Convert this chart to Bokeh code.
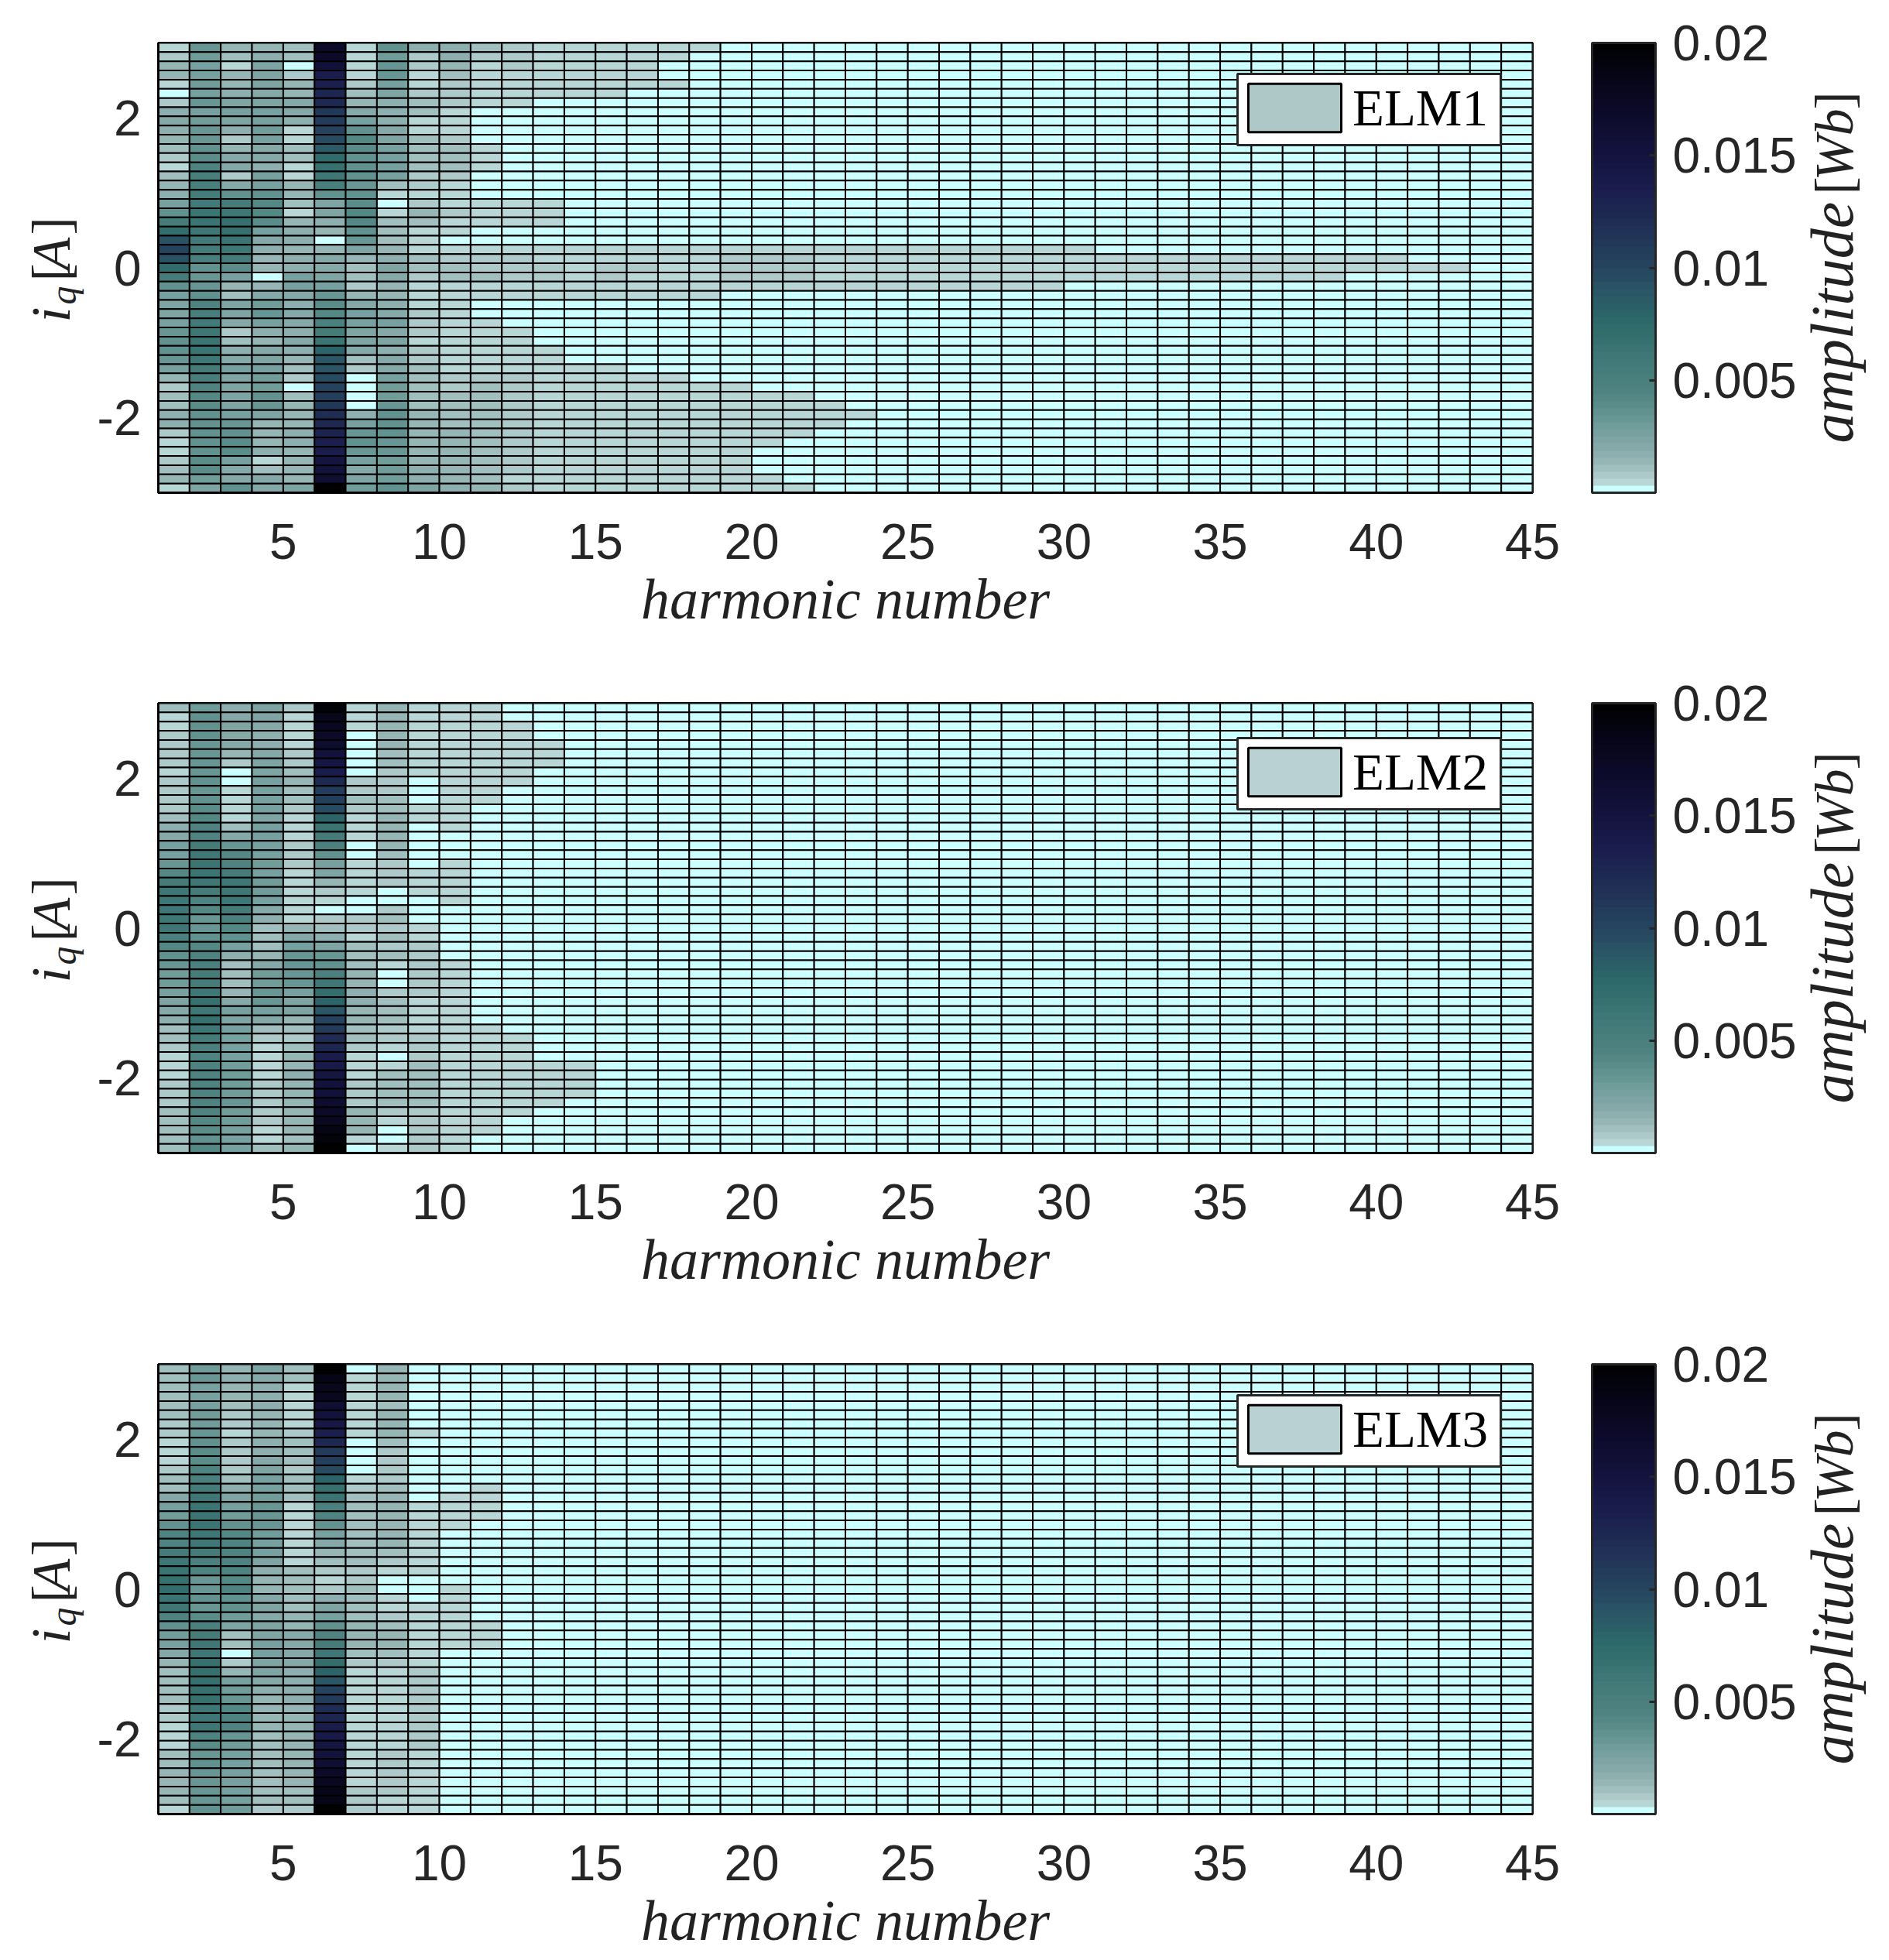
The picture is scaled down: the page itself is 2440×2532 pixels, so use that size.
import math
import numpy as np
from bokeh.plotting import figure
from bokeh.layouts import column, row
from bokeh.embed import file_html
from bokeh.resources import INLINE
from bokeh.models import (ColumnDataSource, LinearColorMapper, ColorBar, FixedTicker, Range1d,
                          Legend, LegendItem, BoxAnnotation, Label)
from bokeh.transform import transform

# harmonic amplitude in 1e-4 Wb; every list is one harmonic column, rows run from iq=+3 down to iq=-3
ELM1 = [
 [5,7,13,14,5,0,9,18,19,16,13,10,7,4,10,14,18,25,37,55,70,92,102,92,74,55,37,25,22,22,25,32,37,37,32,25,13,7,12,12,18,17,7,4,4,7,11,13,4],
 [32,30,28,28,30,28,32,28,30,32,32,37,40,46,50,50,54,58,64,64,62,58,55,50,37,32,32,37,45,50,58,60,64,64,60,54,50,45,42,40,37,37,37,37,37,38,38,30,24],
 [14,11,4,13,15,18,24,25,23,16,9,13,19,20,9,20,37,54,62,68,68,64,60,54,40,25,13,10,22,24,21,9,11,18,21,25,23,24,24,23,25,34,37,40,40,25,20,21,35],
 [15,18,24,24,22,21,24,25,28,30,28,21,19,18,25,27,37,42,42,40,25,20,18,15,13,0,13,21,30,32,27,18,15,21,24,28,30,31,37,34,24,15,13,15,17,4,12,21,20],
 [11,10,0,9,13,15,21,21,17,5,5,10,10,6,5,15,13,10,6,13,18,18,15,18,18,25,25,21,17,21,21,18,21,18,15,10,7,0,10,15,13,15,18,18,15,14,15,13,22],
 [170,170,155,137,132,126,122,112,108,103,94,85,72,68,60,50,37,24,24,18,13,0,15,20,20,22,25,32,38,42,47,55,65,80,88,90,95,100,105,110,120,122,130,133,137,148,150,160,200],
 [4,4,4,4,8,12,15,20,25,37,42,40,37,37,37,32,37,40,42,42,37,32,24,15,11,11,8,15,20,25,25,24,22,20,11,9,0,0,0,0,18,25,32,37,32,25,20,22,30],
 [37,30,32,32,25,22,18,18,18,21,24,25,25,25,25,12,5,0,4,10,11,10,15,18,22,20,13,15,17,21,25,21,24,18,20,21,25,30,30,34,37,37,37,34,32,30,30,30,37],
 [16,9,7,6,6,9,10,12,6,6,10,12,12,10,7,9,6,7,13,12,6,6,6,10,10,9,6,4,4,7,7,7,6,7,7,10,12,12,12,12,13,13,14,14,14,14,17,17,22],
 [17,16,14,10,7,9,9,4,4,4,9,10,10,10,9,4,6,6,9,6,4,0,4,7,10,10,4,4,4,4,6,6,6,5,4,6,9,9,10,12,12,12,13,13,13,13,13,13,17],
 [11,9,6,6,6,6,4,0,0,0,0,4,4,4,0,0,0,4,4,4,0,0,4,9,9,10,4,4,0,0,5,5,5,4,4,4,9,10,10,11,11,11,11,11,11,11,11,11,13],
 [7,7,7,6,5,5,5]+[0]*10+[5,5,5]+[0,0]+[5,7,9,9,6,5]+[0,0,0]+[5,5,5,5,5,7,9,9,9,9,9,9,9,7,7,7,6,7],
 [5,5,5,5,5,5]+[0]*11+[5,5,5]+[0,0]+[5,6,7,7,5,5]+[0]*5+[5,5,5,5,6,6,6,6,6,6,5,5,5,5,5,5],
 [5,5,5,5,5,5]+[0]*16+[5,5,6,6,5,5]+[0]*7+[5]*14,
 [5,5,5,5,6,5]+[0]*16+[5,5,7,7,5,5]+[0]*7+[5,5,5,6,6,6,6,6,5,5,5,5,5,5],
 [5,5,5,5,5]+[0]*17+[5,6,7,6,5,5]+[0]*8+[5]*13,
 [5,5,0,0,5]+[0]*17+[5,6,6,6,5,5]+[0]*8+[5]*13,
 [5]+[0]*21+[5,5,5,5,5,5]+[0]*9+[5]*12,
 [0]*22+[5,7,7,7,5]+[0]*10+[5]*12,
 [0]*22+[5,7,7,7,5]+[0]*11+[5]*6+[0]*3+[5,5],
 [0]*22+[5,7,7,7,5]+[0]*11+[5]*5+[0]*5+[5],
 [0]*22+[5]*5+[0]*12+[5]*3+[0]*7,
 [0]*22+[5]*5+[0]*13+[5]+[0]*8,
 [0]*22+[5]*5+[0]*22,
 [0]*22+[5]*5+[0]*22,
 [0]*22+[5]*5+[0]*22,
 [0]*22+[5]*5+[0]*22,
 [0]*22+[5]*5+[0]*22,
 [0]*22+[5]*5+[0]*22,
 [0]*22+[5]*4+[0]*23,
 [0]*23+[5]*3+[0]*23,
 [0]*23+[5]*3+[0]*23,
 [0]*23+[5]*3+[0]*23,
 [0]*23+[5]*3+[0]*23,
 [0]*23+[5]*3+[0]*23,
 [0]*23+[5]*3+[0]*23,
 [0]*23+[5]*3+[0]*23,
 [0]*23+[5]*3+[0]*23,
 [0]*23+[5,5]+[0]*24,
 [0]*23+[5,5]+[0]*24,
 [0]*24+[5]+[0]*24,
 [0]*24+[5]+[0]*24,
]

ELM2 = [
 [10,5,5,7,8,8,7,5,7,8,8,8,12,18,20,25,25,32,43,54,60,62,62,60,60,48,43,37,32,30,30,25,22,20,18,12,12,7,5,5,5,7,8,8,10,12,12,12,10],
 [30,37,37,36,34,34,32,34,36,34,36,40,42,44,46,54,62,65,65,62,54,46,42,34,34,37,42,44,48,54,54,62,68,62,66,60,54,48,46,44,44,44,44,44,46,42,40,36,42],
 [18,20,22,21,20,15,8,0,0,5,5,5,5,12,21,34,42,46,54,60,60,60,54,48,42,37,25,18,12,10,10,15,21,25,24,25,25,25,25,30,30,30,30,32,30,30,26,26,25],
 [24,22,20,18,18,20,22,22,25,25,25,25,24,25,27,25,27,30,27,30,30,27,20,18,11,11,12,15,21,30,30,34,32,27,20,12,9,5,5,5,5,8,8,8,7,7,5,5,10],
 [8,5,5,5,5,8,8,10,13,12,10,8,5,5,5,8,8,8,5,5,5,5,5,5,13,21,25,32,32,32,32,25,24,22,15,10,8,10,15,15,18,15,15,15,15,15,15,12,13],
 [195,180,175,170,165,152,145,135,122,108,105,94,80,65,54,48,37,27,22,15,8,5,0,8,12,18,24,34,37,48,60,70,80,90,102,108,120,125,135,140,145,150,155,165,170,178,185,192,200],
 [5,5,5,0,0,0,0,0,7,8,10,9,5,5,5,0,0,5,5,5,5,0,0,7,7,5,10,12,11,15,15,18,18,15,15,12,10,8,5,5,5,8,8,8,13,15,15,5,0],
 [15,15,15,13,13,12,10,8,8,8,12,12,15,15,15,13,12,8,8,7,0,0,8,10,8,10,8,10,5,0,0,7,10,12,12,8,8,5,0,5,11,12,12,12,8,5,0,0,5],
 [5,5,5,5,5,5,5,5,0,0,0,5,5,0,0,0,0,0,5,5,5,0,0,0,5,5,8,8,8,8,8,8,5,5,5,5,7,8,9,10,12,12,12,10,8,8,8,8,8],
 [5]*14+[0]*3+[5]*5+[0]*6+[5]*21,
 [5]*11+[0]*24+[5]*12+[0]*2,
 [0]*2+[5]*7+[0]*27+[5]*9+[0]*4,
 [0]*4+[5]*3+[0]*32+[5]*5+[0]*5,
 [0]*39+[5]*4+[0]*6,
]

ELM3 = [
 [12,10,12,12,12,10,8,8,5,5,5,8,10,12,20,27,30,37,44,46,54,60,65,68,70,65,60,46,37,30,25,20,15,12,12,12,10,8,8,5,5,5,10,12,15,15,15,12,5],
 [30,34,25,25,25,30,30,32,37,40,40,46,48,54,62,65,65,65,60,60,54,48,44,32,34,37,34,40,48,54,60,62,66,66,68,68,66,60,60,60,46,40,34,36,34,34,34,34,37],
 [15,18,15,15,12,8,7,5,8,8,8,8,10,18,22,25,30,37,42,44,46,46,44,42,44,37,37,30,22,12,10,0,7,15,25,30,34,42,44,44,34,30,25,25,25,25,26,27,30],
 [24,20,18,18,18,15,15,15,18,18,20,22,25,27,30,34,34,34,30,27,27,22,18,15,15,20,22,20,22,22,25,25,22,22,20,18,15,15,15,15,12,10,12,12,12,12,12,12,7],
 [12,12,5,5,5,5,5,7,10,10,10,8,10,10,12,5,5,5,5,5,5,5,10,10,10,12,12,15,15,20,20,20,20,18,18,18,18,15,15,15,15,15,15,15,15,15,10,10,8],
 [198,185,180,175,160,152,143,133,122,108,105,94,80,68,65,48,46,37,25,20,15,12,7,5,8,18,22,25,37,46,54,60,70,80,90,102,108,120,125,135,140,145,152,160,170,178,183,183,200],
 [0,5,5,5,5,5,5,5,0,0,0,0,5,7,10,10,12,12,12,12,12,10,8,8,10,12,12,12,15,15,15,12,8,5,5,5,5,5,5,5,5,5,5,5,5,5,8,8,8],
 [13,13,13,13,12,13,13,13,10,8,8,8,8,12,13,13,13,13,13,13,12,8,5,0,0,5,5,8,12,13,13,10,8,5,5,5,5,5,5,5,5,5,7,8,8,7,7,5,5],
 [0]*7+[5]+[0]*7+[5]*8+[0]*3+[5]*7+[7]*9+[5]*7,
 [0]*14+[5]*4+[0]*6+[5]*7+[0]*18,
 [0]*13+[5]*4+[0]*11+[5]*3+[0]*18,
]

HARMONIC_EDGES = list(range(1, 46))
X_TICKS = [5, 10, 15, 20, 25, 30, 35, 40, 45]
Y_TICKS = [-2, 0, 2]
Y_TICK_LABELS = {-2: "-2", 0: "0", 2: "2"}
CBAR_TICKS = {0.005: "0.005", 0.01: "0.01", 0.015: "0.015", 0.02: "0.02"}
NAMES = ["ELM1", "ELM2", "ELM3"]
SWATCH = ["#AEC8C8", "#B9D1D2", "#B9D1D2"]

NROWS = 49
TEXT = "#262626"
TICK_FONT = "Liberation Sans"
MATH_FONT = "Liberation Serif"
TICK_SIZE = "64px"

# colour map (value in 1e-4 Wb, colour)
STOPS = [(4.7, "B9D6D6"), (7.8, "ADC9C9"), (10.9, "A1BFBF"), (14, "96B6B6"), (20, "86A9A8"), (25, "7BA3A2"),
         (30, "6F9B9A"), (35, "639391"), (40, "588B88"), (45, "4F8381"), (50, "4A7F7C"), (60, "3F7877"),
         (70, "336E6C"), (75, "2E6B6B"), (80, "2C6369"), (90, "2A5566"), (100, "25455F"), (120, "1F2D54"),
         (135, "1A1D4D"), (150, "14133F"), (170, "0C0A28"), (190, "040410"), (200, "000000")]
sv = [s[0] for s in STOPS]
schan = [[int(s[1][i:i+2], 16) for s in STOPS] for i in (0, 2, 4)]
centres = (np.arange(64) + 0.5) * 200 / 64
palette = ["#CCFFFF"] + ["#%02X%02X%02X" % tuple(int(round(np.interp(c, sv, ch))) for ch in schan)
                         for c in centres[1:]]
mapper = LinearColorMapper(palette=palette, low=0, high=0.02)

FRAME_L, FRAME_W, FRAME_H = 204, 1775, 581
LEFT_W = 112          # strip that holds the rotated iq label
RIGHT_X = 2322        # strip that holds the rotated colour-bar label
RIGHT_W = 2438 - RIGHT_X


def strip(width, height):
    """A blank figure whose data coordinates are its own pixels, for rotated text."""
    s = figure(frame_width=width, frame_height=height, output_backend="svg", toolbar_location=None,
               x_range=Range1d(0, width), y_range=Range1d(height, 0),
               x_axis_type=None, y_axis_type=None, min_border_left=0, min_border_right=0,
               min_border_top=0, min_border_bottom=0)
    s.outline_line_color = None
    s.xgrid.visible = False
    s.ygrid.visible = False
    s.border_fill_color = "white"
    s.background_fill_color = "white"
    return s


def rot(fig, text, x, y, size, style="italic"):
    fig.add_layout(Label(x=x - 0.33 * size, y=y - 50, text=text, angle=math.pi / 2, text_font=MATH_FONT,
                         text_font_size=f"{size}px", text_font_style=style, text_color="#222222",
                         text_align="left", text_baseline="alphabetic"))


def panel(cols, name, swatch, page_top, frame_top, height, box_top):
    cols = cols + [[0] * NROWS] * (44 - len(cols))
    assert len(cols) == 44 and all(len(c) == NROWS for c in cols), [len(c) for c in cols]
    y_edges = np.linspace(3, -3, NROWS + 1)
    left, right, top, bottom, amp = [], [], [], [], []
    for j, c in enumerate(cols):
        for i, v in enumerate(c):
            left.append(HARMONIC_EDGES[j])
            right.append(HARMONIC_EDGES[j + 1])
            top.append(y_edges[i])
            bottom.append(y_edges[i + 1])
            amp.append(v * 1e-4)
    src = ColumnDataSource(dict(left=left, right=right, top=top, bottom=bottom, amp=amp))

    border_top = frame_top - page_top
    p = figure(frame_width=FRAME_W, frame_height=FRAME_H, output_backend="svg", toolbar_location=None,
               x_range=Range1d(1, 45), y_range=Range1d(-3, 3),
               min_border_left=FRAME_L - LEFT_W, min_border_right=RIGHT_X - FRAME_L - FRAME_W,
               min_border_top=border_top, min_border_bottom=height - border_top - FRAME_H)
    p.background_fill_color = "#CCFFFF"
    p.border_fill_color = "white"
    p.outline_line_color = "black"
    p.outline_line_width = 3
    p.xgrid.visible = False
    p.ygrid.visible = False

    p.quad(left="left", right="right", top="top", bottom="bottom", source=src,
           fill_color=transform("amp", mapper), line_color="black", line_width=2)

    p.xaxis.ticker = X_TICKS
    p.yaxis.ticker = Y_TICKS
    p.yaxis.major_label_overrides = Y_TICK_LABELS
    for ax in (p.xaxis[0], p.yaxis[0]):
        ax.major_label_text_font = TICK_FONT
        ax.major_label_text_font_size = TICK_SIZE
        ax.major_label_text_color = TEXT
        ax.major_tick_in = 0
        ax.major_tick_out = 0
        ax.minor_tick_in = 0
        ax.minor_tick_out = 0
        ax.axis_line_color = "black"
        ax.axis_line_width = 3
    p.xaxis.major_label_standoff = 40
    p.yaxis.major_label_standoff = 22
    p.xaxis.axis_label = "harmonic number"
    p.xaxis.axis_label_text_font = MATH_FONT
    p.xaxis.axis_label_text_font_style = "italic"
    p.xaxis.axis_label_text_font_size = "74px"
    p.xaxis.axis_label_text_color = "#222222"
    p.xaxis.axis_label_standoff = 8

    cb = ColorBar(color_mapper=mapper, width=82, height=FRAME_H, location=(2056 - FRAME_L, 0),
                  margin=0, padding=0, ticker=FixedTicker(ticks=list(CBAR_TICKS)),
                  major_label_overrides=CBAR_TICKS, major_label_text_font=TICK_FONT,
                  major_label_text_font_size=TICK_SIZE, major_label_text_color=TEXT,
                  major_tick_line_color=TEXT, major_tick_line_width=3, major_tick_in=8, major_tick_out=0,
                  minor_tick_line_color=None, bar_line_color=TEXT, bar_line_width=3,
                  border_line_color=None, background_fill_color=None, label_standoff=22)
    p.add_layout(cb)

    # legend frame, in data coordinates of the panel
    def X(px):
        return 1 + (px - FRAME_L) / FRAME_W * 44

    def Y(py):
        return 3 - (py - frame_top) / FRAME_H * 6

    p.add_layout(BoxAnnotation(left=X(1598), right=X(1938), top=Y(box_top), bottom=Y(box_top + 92),
                               fill_color="white", fill_alpha=1, line_color=TEXT, line_alpha=1, line_width=3,
                               level="annotation"))
    nan = float("nan")
    swatch_r = p.quad(left=[nan], right=[nan], top=[nan], bottom=[nan], fill_color=swatch,
                      line_color="black", line_width=3)
    leg = Legend(items=[LegendItem(label=name, renderers=[swatch_r])],
                 location=(1597 - FRAME_L, FRAME_H - (box_top + 92 - frame_top) + 9),
                 margin=0, padding=7, glyph_width=150, glyph_height=78, label_standoff=0, label_height=78,
                 border_line_color=None, background_fill_alpha=0, label_text_font=MATH_FONT,
                 label_text_font_size="67px", label_text_color="black")
    p.add_layout(leg)

    # rotated labels on each side
    off = frame_top - 55 - page_top
    sl = strip(LEFT_W, height)
    rot(sl, "i", 89, 411 + off, 72)
    rot(sl, "q", 97, 388 + off, 48)
    rot(sl, "[", 89, 358 + off, 70, "normal")
    rot(sl, "A", 89, 344 + off, 70)
    rot(sl, "]", 89, 298 + off, 70, "normal")

    sr = strip(RIGHT_W, height)
    rx = 2392 - RIGHT_X
    rot(sr, "amplitude", rx, 567 + off, 78)
    rot(sr, "[", rx, 246 + off, 70, "normal")
    rot(sr, "Wb", rx, 228 + off, 70)
    rot(sr, "]", rx, 136 + off, 70, "normal")
    return row(sl, p, sr, spacing=0)


p1 = panel(ELM1, NAMES[0], SWATCH[0], 0, 55, 853, 95)
p2 = panel(ELM2, NAMES[1], SWATCH[1], 853, 908, 854, 953)
p3 = panel(ELM3, NAMES[2], SWATCH[2], 1707, 1762, 820, 1802)

layout = column(p1, p2, p3, spacing=0)
open("out.html", "w").write(file_html(layout, INLINE))
